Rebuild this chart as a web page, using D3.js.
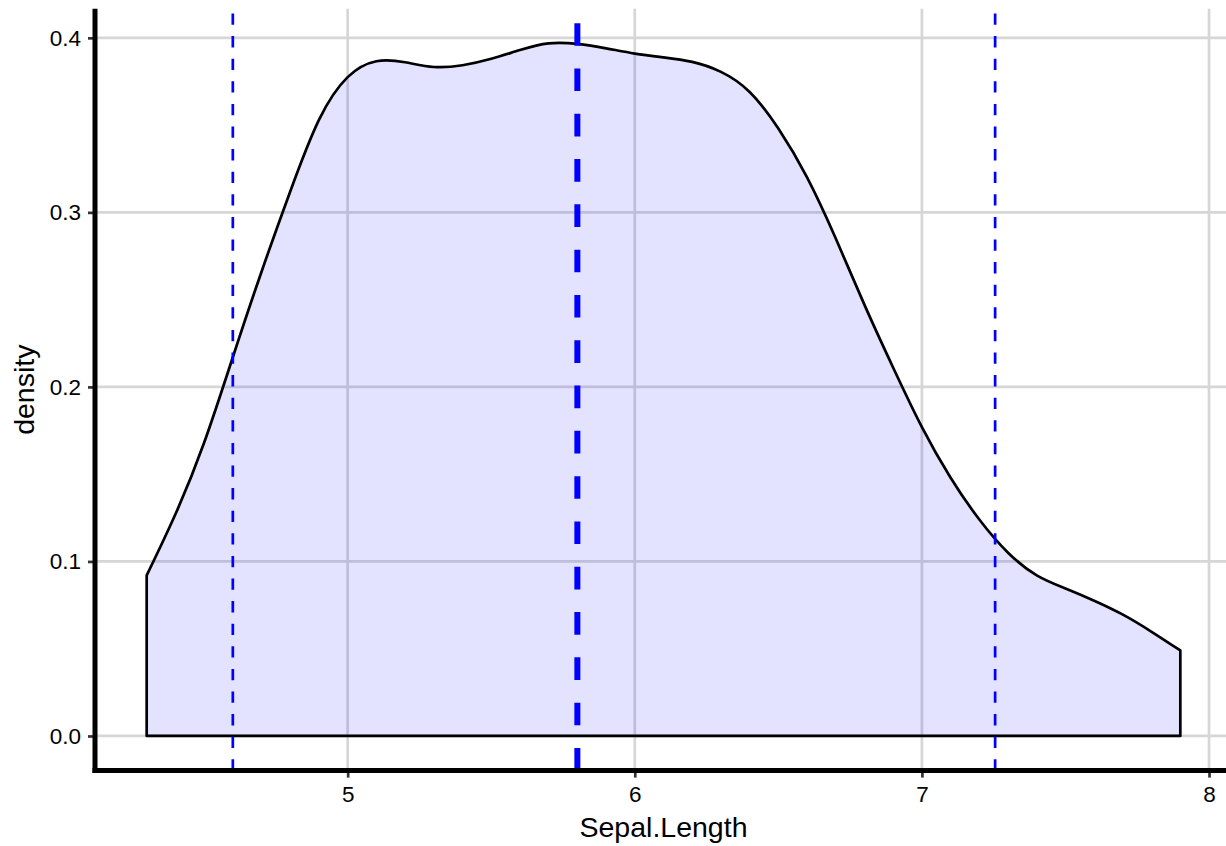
<!DOCTYPE html>
<html>
<head>
<meta charset="utf-8">
<script src="https://cdn.jsdelivr.net/npm/d3@7"></script>
<style>
  body { margin: 0; background: #fff; }
  svg { display: block; font-family: "Liberation Sans", Arial, Helvetica, sans-serif; }
</style>
</head>
<body>
<svg id="chart" width="1226" height="846"></svg>
<script>
// density of Sepal.Length
const sepalLength = [4.3, 4.4, 4.5, 4.6, 4.7, 4.8, 4.9, 5.0, 5.1, 5.2, 5.3, 5.4, 5.5, 5.6, 5.7, 5.8, 5.9,
  6.0, 6.1, 6.2, 6.3, 6.4, 6.5, 6.6, 6.7, 6.8, 6.9, 7.0, 7.1, 7.2, 7.3, 7.4, 7.5, 7.6, 7.7, 7.8, 7.9];
const density = [0.092, 0.127, 0.168, 0.217, 0.266, 0.312, 0.353, 0.3775, 0.3866, 0.386, 0.3833, 0.3843, 0.388,
  0.393, 0.3968, 0.3965, 0.394, 0.391, 0.3888, 0.3862, 0.3805, 0.369, 0.348, 0.320, 0.285, 0.247, 0.211, 0.177,
  0.148, 0.124, 0.105, 0.092, 0.0845, 0.0775, 0.0695, 0.0597, 0.049];

// quantile lines (5% / 95%) and median
const quantiles = [4.6, 7.255];
const median = [5.8];

const xTicks = [5, 6, 7, 8];
const yTicks = [0, 0.1, 0.2, 0.3, 0.4];

const data = sepalLength.map((v, i) => ({ x: v, d: density[i] }));

// panel area
const panel = { left: 95, right: 1232, top: 8.8, bottom: 770.6 };

// ggplot style 5% expansion of the data range
const xExt = d3.extent(sepalLength);
const xPad = (xExt[1] - xExt[0]) * 0.05;
const yMax = d3.max(density);
const yPad = yMax * 0.05;

const x = d3.scaleLinear()
  .domain([xExt[0] - xPad, xExt[1] + xPad])
  .range([panel.left, panel.right]);
const y = d3.scaleLinear()
  .domain([0 - yPad, yMax + yPad])
  .range([panel.bottom, panel.top]);

const svg = d3.select("#chart");

// grid lines
const grid = svg.append("g");
grid.selectAll(".gx")
  .data(xTicks)
  .enter()
  .append("line")
  .attr("x1", d => x(d)).attr("x2", d => x(d))
  .attr("y1", panel.top).attr("y2", panel.bottom)
  .attr("stroke", "#d6d6d6")
  .attr("stroke-width", 2.7);
grid.selectAll(".gy")
  .data(yTicks)
  .enter()
  .append("line")
  .attr("x1", panel.left).attr("x2", panel.right)
  .attr("y1", d => y(d)).attr("y2", d => y(d))
  .attr("stroke", "#d6d6d6")
  .attr("stroke-width", 2.7);

// density area with outline
const area = d3.area()
  .x(d => x(d.x))
  .y0(y(0))
  .y1(d => y(d.d))
  .curve(d3.curveNatural);

svg.append("path")
  .datum(data)
  .attr("d", area)
  .attr("fill", "#0000ff")
  .attr("fill-opacity", 0.11)
  .attr("stroke", "#000")
  .attr("stroke-width", 2.7)
  .attr("stroke-linejoin", "round");

// vertical lines, drawn bottom to top like ggplot
svg.selectAll(".q")
  .data(quantiles)
  .enter()
  .append("line")
  .attr("x1", d => x(d)).attr("x2", d => x(d))
  .attr("y1", panel.bottom).attr("y2", panel.top)
  .attr("stroke", "#0000ff")
  .attr("stroke-width", 2.7)
  .attr("stroke-dasharray", "11.3,11.3");

svg.selectAll(".m")
  .data(median)
  .enter()
  .append("line")
  .attr("x1", d => x(d)).attr("x2", d => x(d))
  .attr("y1", panel.bottom).attr("y2", panel.top)
  .attr("stroke", "#0000ff")
  .attr("stroke-width", 6)
  .attr("stroke-dasharray", "22.65,22.65");

// axes
const xAxis = svg.append("g")
  .attr("transform", `translate(0,${panel.bottom})`)
  .call(d3.axisBottom(x).tickValues(xTicks).tickFormat(d3.format("d")).tickSize(7).tickPadding(8.4));
const yAxis = svg.append("g")
  .attr("transform", `translate(${panel.left},0)`)
  .call(d3.axisLeft(y).tickValues(yTicks).tickFormat(d3.format(".1f")).tickSize(7).tickPadding(7));

[xAxis, yAxis].forEach(a => {
  a.select(".domain").remove();
  a.selectAll(".tick line").attr("stroke", "#333").attr("stroke-width", 2.7);
  a.selectAll(".tick text").attr("fill", "#000").style("font-size", "22.5px")
    .style("font-family", "'Liberation Sans', Arial, Helvetica, sans-serif");
});

// axis lines
svg.append("line")
  .attr("x1", panel.left).attr("x2", panel.left)
  .attr("y1", panel.top).attr("y2", panel.bottom + 2.5)
  .attr("stroke", "#000").attr("stroke-width", 5);
svg.append("line")
  .attr("x1", panel.left - 2.5).attr("x2", panel.right)
  .attr("y1", panel.bottom).attr("y2", panel.bottom)
  .attr("stroke", "#000").attr("stroke-width", 5);

// axis titles
svg.append("text")
  .attr("x", (panel.left + panel.right) / 2)
  .attr("y", 836.5)
  .attr("text-anchor", "middle")
  .style("font-size", "28.5px")
  .text("Sepal.Length");

svg.append("text")
  .attr("transform", `translate(34,${(panel.top + panel.bottom) / 2}) rotate(-90)`)
  .attr("text-anchor", "middle")
  .style("font-size", "28.5px")
  .text("density");
</script>
</body>
</html>
